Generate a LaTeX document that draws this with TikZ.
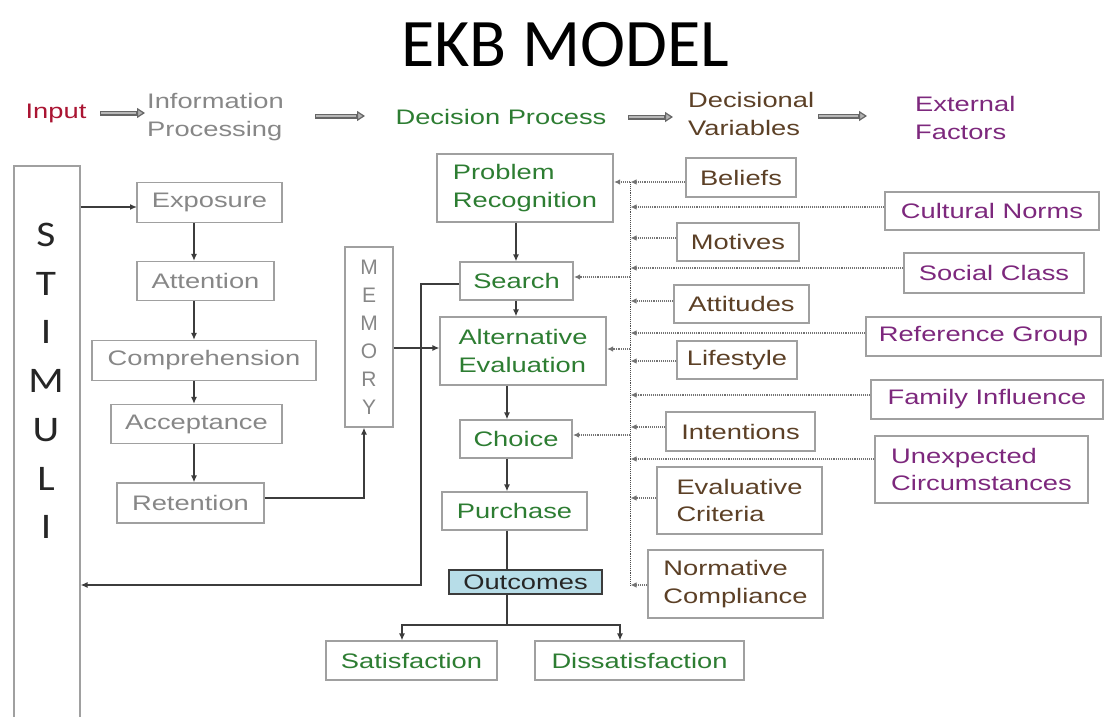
\documentclass[tikz,border=0pt]{standalone}
\usepackage{fontspec}
\setmainfont[FakeStretch=1.3]{Liberation Sans}
\newfontfamily\titlefont{Carlito}
\newfontfamily\stimfont[FakeStretch=1.15]{Carlito}
\newfontfamily\memfont{Liberation Sans}
\usetikzlibrary{arrows.meta}
\definecolor{tgreen}{RGB}{45,125,50}
\definecolor{tgray}{RGB}{135,135,135}
\definecolor{tbrown}{RGB}{92,64,38}
\definecolor{tpurple}{RGB}{125,40,125}
\definecolor{tred}{RGB}{170,20,50}
\definecolor{boxgray}{RGB}{160,160,160}
\definecolor{outfill}{RGB}{183,221,232}
\definecolor{linec}{RGB}{60,60,60}
\begin{document}
\begin{tikzpicture}[x=1pt,y=-1pt,
  txt/.style={inner sep=0pt, font=\fontsize{21}{27.5}\selectfont},
  box/.style={draw=boxgray, line width=1.2pt, inner sep=0pt, align=center,
              font=\fontsize{21}{27.5}\selectfont},
  procbox/.style={box, text=tgray},
  decbox/.style={box, text=tgreen},
  varbox/.style={box, text=tbrown},
  extbox/.style={box, text=tpurple},
  arr/.style={draw=linec, line width=1.3pt, -{Latex[length=7pt,width=6pt]}},
  plain/.style={draw=linec, line width=1.3pt},
  dotarr/.style={draw=black!55, line width=1.1pt, densely dotted, -{Latex[length=6pt,width=5.5pt]}, shorten >=0.5pt},
  bus/.style={draw=black!70, line width=0.9pt, densely dotted},
  hdrarrow/.style={draw=black!60, line width=5pt,
     -{Triangle[length=8pt,width=10pt,line width=1.2pt,fill=black!30]},
     postaction={draw=black!28, line width=2.6pt, arrows=-, shorten >=9pt, shorten <=1pt}}
]
\useasboundingbox (0,0) rectangle (1105,717);
\fill[white] (0,0) rectangle (1105,717);

% title
\node[inner sep=0pt, font=\titlefont\fontsize{68}{70}\selectfont] (title) at (565,45) {EKB MODEL};

% header
\node[txt, text=tred] (hinput) at (56,113) {Input};
\node[txt, text=tgray, align=left, anchor=west] (hinfo) at (147,117) {Information\\Processing};
\node[txt, text=tgreen] (hdec) at (501,117) {Decision Process};
\node[txt, text=tbrown, align=left, anchor=west] (hvar) at (688,114) {Decisional\\Variables};
\node[txt, text=tpurple, align=left, anchor=west] (hext) at (915,118) {External\\Factors};
\coordinate (ha1s) at (100,113); \coordinate (ha1e) at (145,113);
\coordinate (ha2s) at (315,116); \coordinate (ha2e) at (365,116);
\coordinate (ha3s) at (628,117); \coordinate (ha3e) at (673,117);
\coordinate (ha4s) at (818,116); \coordinate (ha4e) at (867,116);
\draw[hdrarrow] (ha1s) -- (ha1e);
\draw[hdrarrow] (ha2s) -- (ha2e);
\draw[hdrarrow] (ha3s) -- (ha3e);
\draw[hdrarrow] (ha4s) -- (ha4e);

% stimuli
\node[draw=boxgray, line width=1.2pt, minimum width=66pt, minimum height=560pt, inner sep=0pt] (stim) at (47,446) {};
\node[inner sep=0pt, align=center, text=black!85, font=\stimfont\fontsize{36}{48.7}\selectfont] (stimtext) at (46,381) {S\\T\\I\\M\\U\\L\\I};

% information processing column
\node[procbox, minimum width=145pt, minimum height=40pt] (expo) at (209.5,202.5) {Exposure};
\node[procbox, minimum width=137pt, minimum height=39pt] (atten) at (205.5,281) {Attention};
\node[procbox, minimum width=224pt, minimum height=40pt] (compr) at (204,360.5) {Comprehension};
\node[procbox, minimum width=171pt, minimum height=39pt] (accept) at (196.5,424) {Acceptance};
\node[procbox, minimum width=147pt, minimum height=40pt] (reten) at (190.5,503) {Retention};

% memory
\node[draw=boxgray, line width=1.2pt, minimum width=48pt, minimum height=180pt, inner sep=0pt] (memory) at (369,337) {};
\node[inner sep=0pt, align=center, text=tgray, font=\memfont\fontsize{21}{28}\selectfont] (memtext) at (369,337) {M\\E\\M\\O\\R\\Y};

% decision process column
\node[decbox, align=left, minimum width=176pt, minimum height=68pt] (probrec) at (525,188) {Problem\\Recognition};
\node[decbox, minimum width=113pt, minimum height=38pt] (search) at (516.5,281) {Search};
\node[decbox, align=left, minimum width=166pt, minimum height=68pt] (alteval) at (523,351) {Alternative\\Evaluation};
\node[decbox, minimum width=112pt, minimum height=38pt] (choice) at (516,439) {Choice};
\node[decbox, minimum width=145pt, minimum height=38pt] (purchase) at (514.5,511) {Purchase};
\node[box, draw=linec, fill=outfill, text=black!85, minimum width=153pt, minimum height=24pt] (outcomes) at (525.5,582) {Outcomes};
\node[decbox, minimum width=171pt, minimum height=39pt] (satis) at (411.5,660.5) {Satisfaction};
\node[decbox, minimum width=209pt, minimum height=39pt] (dissat) at (639.5,660.5) {Dissatisfaction};

% decisional variables
\node[varbox, minimum width=110pt, minimum height=39pt] (beliefs) at (741,177.5) {Beliefs};
\node[varbox, minimum width=122pt, minimum height=38pt] (motives) at (738,242) {Motives};
\node[varbox, minimum width=135pt, minimum height=38pt] (attitudes) at (741.5,304) {Attitudes};
\node[varbox, minimum width=120pt, minimum height=38pt] (lifestyle) at (737,360) {Lifestyle};
\node[varbox, minimum width=149pt, minimum height=39pt] (intentions) at (740.5,431.5) {Intentions};
\node[varbox, align=left, minimum width=165pt, minimum height=67pt] (evalcrit) at (739.5,500.5) {Evaluative\\Criteria};
\node[varbox, align=left, minimum width=175pt, minimum height=68pt] (normative) at (735.5,584) {Normative\\Compliance};

% external factors
\node[extbox, minimum width=214pt, minimum height=38pt] (cultural) at (992,211) {Cultural Norms};
\node[extbox, minimum width=180pt, minimum height=40pt] (social) at (994,273) {Social Class};
\node[extbox, minimum width=235pt, minimum height=39pt] (refgroup) at (983.5,336.5) {Reference Group};
\node[extbox, minimum width=232pt, minimum height=39pt] (family) at (987,399.5) {Family Influence};
\node[extbox, align=left, minimum width=213pt, minimum height=67pt] (unexp) at (981.5,469.5) {Unexpected\\Circumstances};

% information processing connectors
\coordinate (se) at (137,207);
\draw[arr] (stim.east |- se) -- (se);
\coordinate (colx) at (194,0);
\draw[arr] (expo.south -| colx) -- (atten.north -| colx);
\draw[arr] (atten.south -| colx) -- (compr.north -| colx);
\draw[arr] (compr.south -| colx) -- (accept.north -| colx);
\draw[arr] (accept.south -| colx) -- (reten.north -| colx);
\coordinate (rm) at (364,498);
\draw[arr] (reten.east |- rm) -- (rm) -- (rm |- memory.south);
\coordinate (ma) at (393,348);
\draw[arr] (memory.east |- ma) -- (alteval.west |- ma);

% feedback search -> stimuli
\coordinate (fbt) at (421,284);
\coordinate (fbb) at (421,585);
\draw[arr] (search.west |- fbt) -- (fbt) -- (fbb) -- (stim.east |- fbb);

% decision process connectors
\coordinate (ux) at (516,0);
\coordinate (lx) at (507,0);
\draw[arr] (probrec.south -| ux) -- (search.north -| ux);
\draw[arr] (search.south -| ux) -- (alteval.north -| ux);
\draw[arr] (alteval.south -| lx) -- (choice.north -| lx);
\draw[arr] (choice.south -| lx) -- (purchase.north -| lx);
\draw[plain] (purchase.south -| lx) -- (outcomes.north -| lx);
\coordinate (split) at (507,625);
\coordinate (sl) at (402,625);
\coordinate (sr) at (620,625);
\draw[plain] (outcomes.south -| lx) -- (split);
\draw[arr] (split) -- (sl) -- (satis.north -| sl);
\draw[arr] (split) -- (sr) -- (dissat.north -| sr);

% bus
\coordinate (bustop) at (630,182);
\coordinate (busbot) at (630,585);
\draw[bus] (bustop) -- (busbot);
\coordinate (b1) at (630,182);
\coordinate (b2) at (630,207);
\coordinate (b3) at (630,238);
\coordinate (b4) at (630,268);
\coordinate (b5) at (630,301);
\coordinate (b6) at (630,333);
\coordinate (b7) at (630,361);
\coordinate (b8) at (630,395);
\coordinate (b9) at (630,427);
\coordinate (b10) at (630,459);
\coordinate (b11) at (630,498);
\coordinate (b12) at (630,585);
\draw[dotarr] (beliefs.west |- b1) -- (b1);
\draw[dotarr] (cultural.west |- b2) -- (b2);
\draw[dotarr] (motives.west |- b3) -- (b3);
\draw[dotarr] (social.west |- b4) -- (b4);
\draw[dotarr] (attitudes.west |- b5) -- (b5);
\draw[dotarr] (refgroup.west |- b6) -- (b6);
\draw[dotarr] (lifestyle.west |- b7) -- (b7);
\draw[dotarr] (family.west |- b8) -- (b8);
\draw[dotarr] (intentions.west |- b9) -- (b9);
\draw[dotarr] (unexp.west |- b10) -- (b10);
\draw[dotarr] (evalcrit.west |- b11) -- (b11);
\draw[dotarr] (normative.west |- b12) -- (b12);

% bus to decision process
\coordinate (p1) at (630,182);
\coordinate (p2) at (630,277);
\coordinate (p3) at (630,349);
\coordinate (p4) at (630,435);
\draw[dotarr] (p1) -- (probrec.east |- p1);
\draw[dotarr] (p2) -- (search.east |- p2);
\draw[dotarr] (p3) -- (alteval.east |- p3);
\draw[dotarr] (p4) -- (choice.east |- p4);
\end{tikzpicture}
\end{document}
